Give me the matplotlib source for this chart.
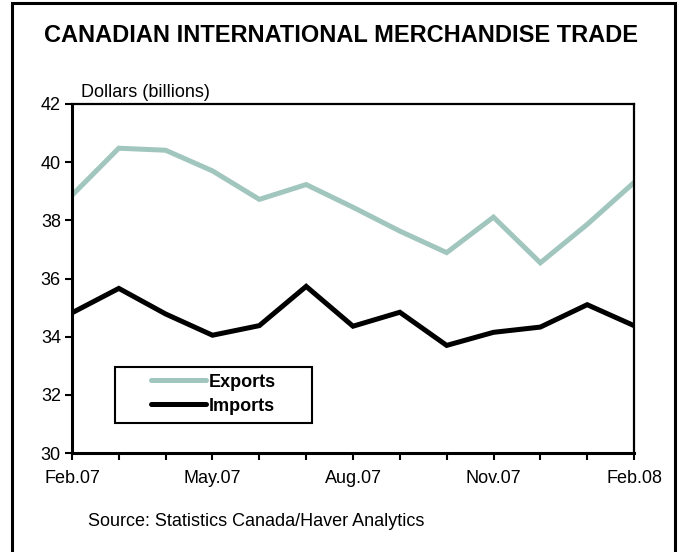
import matplotlib
matplotlib.use('Agg')
import matplotlib.pyplot as plt
from matplotlib.patches import Rectangle

plt.rcParams['font.family'] = ['Liberation Sans', 'DejaVu Sans']

months = ['Feb.07', 'Mar.07', 'Apr.07', 'May.07', 'Jun.07', 'Jul.07', 'Aug.07',
          'Sep.07', 'Oct.07', 'Nov.07', 'Dec.07', 'Jan.08', 'Feb.08']
exports = [38.86, 40.48, 40.41, 39.70, 38.72, 39.23, 38.45,
           37.63, 36.89, 38.11, 36.54, 37.86, 39.30]
imports = [34.82, 35.66, 34.78, 34.05, 34.38, 35.73, 34.36,
           34.84, 33.70, 34.15, 34.33, 35.10, 34.38]
shown_labels = ['Feb.07', 'May.07', 'Aug.07', 'Nov.07', 'Feb.08']


def main():
    '''
    Draws the trade chart and saves it to out.png.
    :return: None
    '''

    fig = plt.figure(figsize=(6.81, 5.52), dpi=100)
    ax = fig.add_axes([0.1057, 0.1793, 0.8253, 0.6323])

    x = list(range(len(months)))
    ax.plot(x, exports, color='#a0c6bd', lw=3.6, label='Exports',
            solid_joinstyle='miter')
    ax.plot(x, imports, color='black', lw=3.6, label='Imports',
            solid_joinstyle='miter')

    ax.set_xlim(0, len(months) - 1)
    ax.set_ylim(30, 42)
    ax.set_yticks(range(30, 43, 2))
    ax.set_xticks(x)
    ax.set_xticklabels([m if m in shown_labels else '' for m in months])
    ax.tick_params(direction='out', length=5, width=1.5, labelsize=13,
                   colors='black')
    ax.tick_params(axis='x', pad=7)
    ax.tick_params(axis='y', pad=3)

    for side in ['left', 'bottom']:
        ax.spines[side].set_linewidth(2.2)
    for side in ['top', 'right']:
        ax.spines[side].set_linewidth(1.6)

    # legend without its own frame, box drawn separately (wide side padding)
    leg = ax.legend(loc='center left', bbox_to_anchor=(0.1405, 0.1685),
                    borderaxespad=0, frameon=False, handlelength=3.05,
                    handletextpad=0.15, borderpad=0, labelspacing=0.38,
                    prop={'weight': 'bold', 'size': 13})
    for line in leg.get_lines():
        line.set_solid_capstyle('round')
    ax.add_patch(Rectangle((0.0765, 0.0859), 0.3505, 0.1605,
                           transform=ax.transAxes, fill=False,
                           edgecolor='black', lw=1.5, zorder=5))

    ax.text(0.016, 1.008, 'Dollars (billions)', transform=ax.transAxes,
            fontsize=13, ha='left', va='bottom')

    fig.text(0.5, 1 - 35 / 552, 'CANADIAN INTERNATIONAL MERCHANDISE TRADE',
             fontsize=17, fontweight='bold', ha='center', va='center')
    fig.text(88 / 681, 1 - 521 / 552, 'Source: Statistics Canada/Haver Analytics',
             fontsize=13, ha='left', va='center')

    # outer frame, bottom edge runs past the image
    fig.patches.append(Rectangle((12 / 681, -0.02), 663 / 681, 1.02 - 3 / 552,
                                 transform=fig.transFigure, fill=False,
                                 edgecolor='black', lw=2.2))

    fig.savefig('out.png', dpi=100)


if __name__ == '__main__':
    main()
